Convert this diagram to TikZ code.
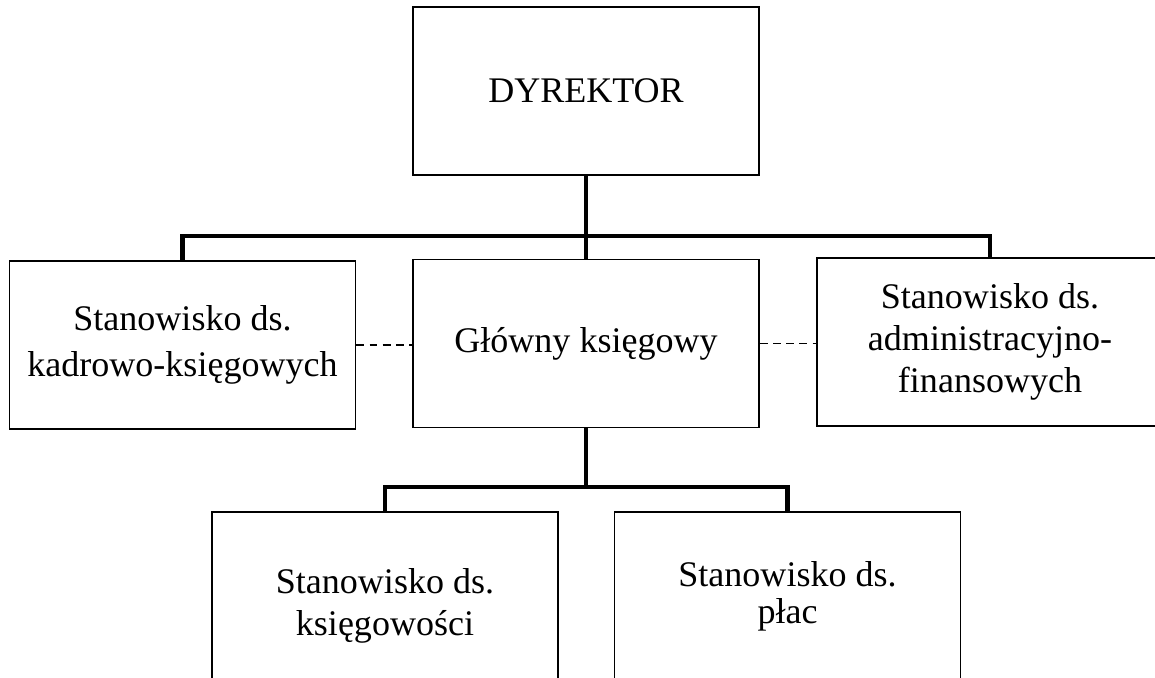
\documentclass[tikz,border=0pt]{standalone}
\usepackage{fontspec}
\setmainfont{Liberation Serif}
\begin{document}
\begin{tikzpicture}[x=0.02cm, y=-0.02cm,
    box/.style={draw, line width=1pt, align=center, inner sep=0pt,
        minimum width=6.92cm, minimum height=3.36cm,
        font=\fontsize{20.5}{24}\selectfont},
    lowbox/.style={box, minimum height=3.76cm},
    conn/.style={line width=2.8pt},
    link/.style={line width=0.6pt, dash pattern=on 4.5pt off 3pt}]
    \useasboundingbox (0,0) rectangle (1155,677);
    \clip (0,0) rectangle (1155,677);
    % boxes
    \node[box] (dyr) at (586,91) {DYREKTOR};
    \node[box] (kadr) at (182.5,345) {Stanowisko ds.\\[2pt]kadrowo-księgowych};
    \node[box] (glowny) at (586,343.5) {Główny księgowy};
    \node[box] (admin) at (990,342) {Stanowisko ds.\\administracyjno-\\finansowych};
    \node[lowbox] (ksieg) at (385,606) {Stanowisko ds.\\księgowości};
    \node[lowbox] (place) at (787.5,606) {Stanowisko ds.\\[-3pt]płac\\[-9pt]\mbox{}};
    % bus lines
    \coordinate (busTop) at (586,236);
    \coordinate (busBot) at (586,487);
    \draw[conn] (dyr.south) -- (glowny.north);
    \draw[conn] (kadr.north) |- (busTop) -| (admin.north);
    \draw[conn] (glowny.south) -- (busBot);
    \draw[conn] (ksieg.north) |- (busBot) -| (place.north);
    % dashed links
    \draw[link] (kadr.east) -- (kadr.east -| glowny.west);
    \draw[link] (glowny.east) -- (glowny.east -| admin.west);
\end{tikzpicture}
\end{document}
